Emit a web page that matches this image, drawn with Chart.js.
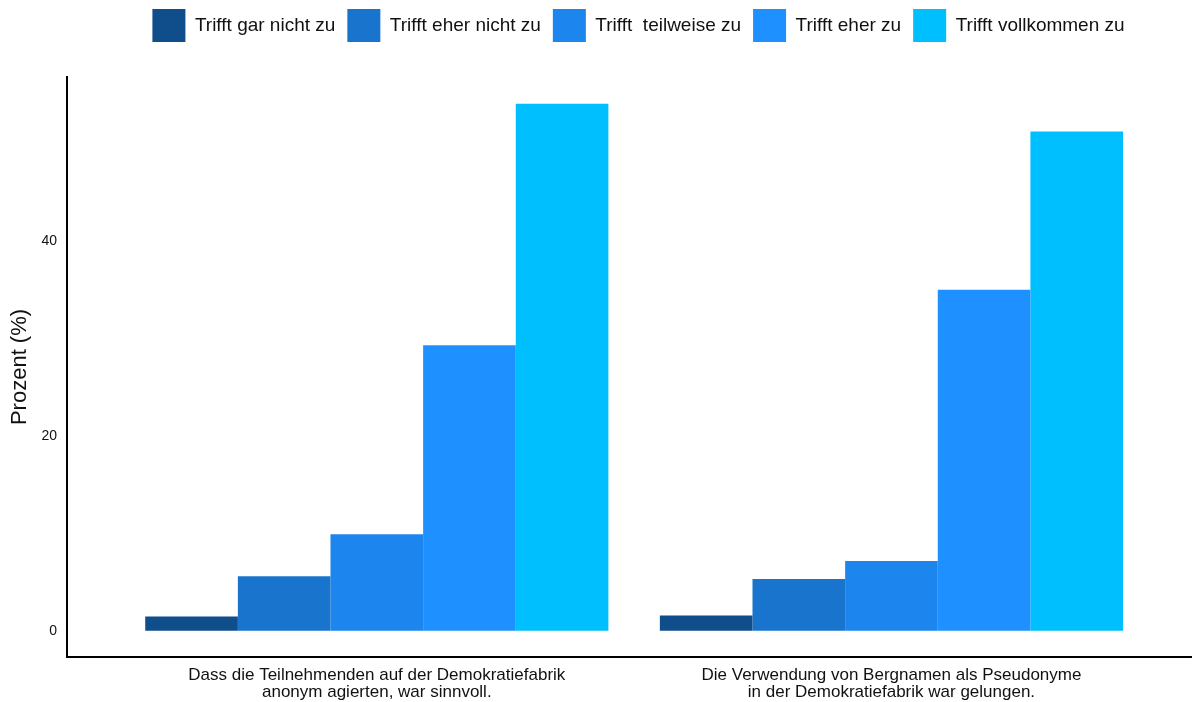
<!DOCTYPE html>
<html>
<head>
<meta charset="utf-8">
<script src="https://cdn.jsdelivr.net/npm/chart.js@4/dist/chart.umd.min.js"></script>
<style>
    html, body { margin: 0; padding: 0; background: #fff; }
    #wrap { width: 1192px; height: 702px; }
</style>
</head>
<body>
<div id="wrap"><canvas id="zustimmungChart" width="1192" height="702"></canvas></div>
<script>
// Daten (Prozent)
const aussagen = [
    ['Dass die Teilnehmenden auf der Demokratiefabrik', 'anonym agierten, war sinnvoll.'],
    ['Die Verwendung von Bergnamen als Pseudonyme', 'in der Demokratiefabrik war gelungen.']
];
const antworten = ['Trifft gar nicht zu', 'Trifft eher nicht zu', 'Trifft  teilweise zu', 'Trifft eher zu', 'Trifft vollkommen zu'];
const garNicht = [1.45, 1.55];
const eherNicht = [5.6, 5.3];
const teilweise = [9.9, 7.15];
const eherZu = [29.3, 35.0];
const vollkommen = [54.1, 51.25];
const farben = ['#104E8B', '#1874CD', '#1C86EE', '#1E90FF', '#00BFFF'];
const yTicks = [0, 20, 40];

const FONT = "'Liberation Sans', Arial, Helvetica, sans-serif";

// Abstand zwischen Legende und Plot, Legende etwas nach rechts
const legendMargin = {
    id: 'legendMargin',
    beforeInit: function(chart) {
        const fit = chart.legend.fit;
        chart.legend.fit = function() {
            fit.bind(chart.legend)();
            this.height += 25;
        };
    },
    afterLayout: function(chart) {
        chart.legend.left += 9;
        chart.legend.right += 9;
    }
};

const reihen = [garNicht, eherNicht, teilweise, eherZu, vollkommen];
const datasets = reihen.map((werte, i) => ({
    label: antworten[i],
    data: werte.map((v, k) => ({ x: k + 1, y: v })),
    backgroundColor: farben[i],
    borderColor: farben[i],
    borderWidth: 0,
    categoryPercentage: 0.9,
    barPercentage: 1.0
}));

const ctx = document.getElementById('zustimmungChart');
new Chart(ctx, {
    type: 'bar',
    data: { datasets: datasets },
    options: {
        responsive: false,
        animation: false,
        layout: { padding: { left: 0, right: 0, top: -3, bottom: 0 } },
        plugins: {
            legend: {
                position: 'top',
                fullSize: false,
                labels: {
                    boxWidth: 33,
                    boxHeight: 33,
                    padding: 12,
                    color: '#111',
                    font: { family: FONT, size: 19 }
                }
            },
            tooltip: { enabled: false }
        },
        scales: {
            x: {
                type: 'linear',
                offset: false,
                min: 0.398,
                max: 2.584,
                grid: { display: false, drawTicks: false, offset: false },
                border: { display: true, color: '#000', width: 2 },
                afterBuildTicks: function(scale) {
                    scale.ticks = aussagen.map((a, k) => ({ value: k + 1 }));
                },
                afterFit: function(scale) {
                    scale.height = 45;
                },
                ticks: {
                    autoSkip: false,
                    maxRotation: 0,
                    padding: 10,
                    color: '#111',
                    font: { family: FONT, size: 17, lineHeight: '17px' },
                    callback: function(value) {
                        return aussagen[value - 1] || '';
                    }
                }
            },
            y: {
                min: -2.7,
                max: 56.85,
                grid: { display: false, drawTicks: false },
                border: { display: true, color: '#000', width: 2 },
                afterBuildTicks: function(scale) {
                    scale.ticks = yTicks.map(v => ({ value: v }));
                },
                afterFit: function(scale) {
                    scale.width = 67;
                },
                ticks: {
                    padding: 10,
                    color: '#111',
                    font: { family: FONT, size: 14 }
                },
                title: {
                    display: true,
                    text: 'Prozent (%)',
                    color: '#111',
                    padding: { top: 7, bottom: 0 },
                    font: { family: FONT, size: 22 }
                }
            }
        }
    },
    plugins: [legendMargin]
});
</script>
</body>
</html>
